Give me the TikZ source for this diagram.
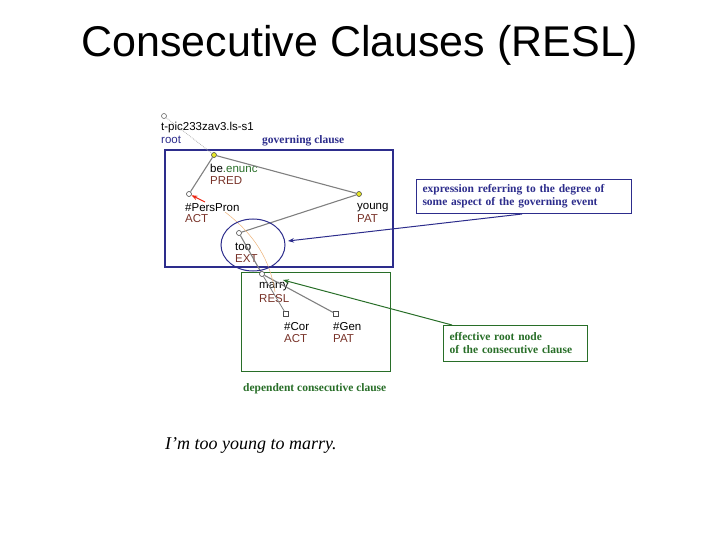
\documentclass[tikz,border=0pt]{standalone}
\usepackage{fontspec}
\setmainfont{Liberation Serif}
\newfontfamily\sff{Liberation Sans}
\usetikzlibrary{arrows.meta}
\definecolor{tblue}{RGB}{45,45,140}
\definecolor{tgreen}{RGB}{40,110,40}
\definecolor{fred}{RGB}{120,50,40}
\definecolor{nyel}{RGB}{230,230,40}
\begin{document}
\begin{tikzpicture}[x=1pt,y=-1pt,
 lab/.style={font=\sff\fontsize{11.5}{12}\selectfont,anchor=west,inner sep=0},
 fun/.style={lab,text=fred},
 nd/.style={circle,draw=black!70,line width=0.6pt,inner sep=0,minimum size=5pt},
 sq/.style={rectangle,draw=black!70,line width=0.6pt,inner sep=0,minimum size=4.5pt},
 edge/.style={draw=gray,line width=1.1pt},
 note/.style={font=\bfseries\fontsize{11.5}{13}\selectfont,align=left}]
\useasboundingbox (0,0) rectangle (720,540);
\node[font=\sff\fontsize{43}{46}\selectfont] (title) at (360,45) {Consecutive Clauses (RESL)};
% boxes
\draw[tblue,line width=1.2pt] (165,150) rectangle (393,267);
\draw[tgreen,line width=1pt] (241,272) rectangle (390,371);
\node[note,text=tblue,anchor=west,inner sep=0] (gc) at (262,141) {governing clause};
\node[note,text=tgreen,anchor=west,inner sep=0] (dc) at (243,389) {dependent consecutive clause};
% nodes
\node[nd,draw=black!60] (root) at (164,116) {};
\node[lab] (rootl) at (161,128) {t-pic233zav3.ls-s1};
\node[lab,text=tblue] (rootr) at (161,140) {root};
\node[nd,fill=nyel] (be) at (214,155) {};
\node[lab] (bel) at (210,168) {be\textcolor{tgreen}{.enunc}};
\node[fun] (bef) at (210,181) {PRED};
\node[nd,fill=white] (pp) at (189,194) {};
\node[lab] (ppl) at (185,208) {\#PersPron};
\node[fun] (ppf) at (185,219) {ACT};
\node[nd,fill=nyel] (yg) at (359,194) {};
\node[lab] (ygl) at (357,208) {young};
\node[fun] (ygf) at (357,219) {PAT};
\node[nd,fill=white] (too) at (239,233) {};
\node[lab] (tool) at (235,247) {too};
\node[fun] (toof) at (235,259) {EXT};
\node[nd,fill=white] (mr) at (262,274) {};
\node[lab] (mrl) at (259,287) {marry};
\node[fun] (mrf) at (259,299) {RESL};
\node[sq,fill=white] (cor) at (286,314) {};
\node[lab] (corl) at (284,327) {\#Cor};
\node[fun] (corf) at (284,339) {ACT};
\node[sq,fill=white] (gen) at (336,314) {};
\node[lab] (genl) at (333,327) {\#Gen};
\node[fun] (genf) at (333,339) {PAT};
% edges
\draw[gray!60,densely dotted,line width=0.8pt] (root) -- (be);
\draw[edge] (be) -- (pp);
\draw[edge] (be) -- (yg);
\draw[edge] (yg) -- (too);
\draw[edge] (too) -- (mr);
\draw[edge] (mr) -- (gen);
\draw[gray,line width=0.8pt] (mr) -- (cor);
\draw[orange!50!brown!60,line width=0.5pt] (225,212) .. controls (255,235) and (270,260) .. (275,292);
\draw[red!70!brown,line width=1pt,-{Stealth[length=6pt]}] (205,202) -- (pp);
% ellipse
\draw[tblue,line width=1pt] (253,245) ellipse [x radius=32,y radius=26];
% notes
\node[note,text=tblue,draw=tblue,line width=1pt,text width=203pt,minimum height=34pt,inner xsep=6pt,inner ysep=3pt,anchor=north west] (n1) at (416,179) {expression referring to the degree of\\some aspect of the governing event};
\node[note,text=tgreen,draw=tgreen,line width=1pt,text width=132pt,minimum height=36pt,inner xsep=6pt,inner ysep=3pt,anchor=north west] (n2) at (443,325) {effective root node\\of the consecutive clause};
\draw[tblue,line width=1pt,-{Stealth[length=6pt]}] (n1.south) ++(-2,0) coordinate (c1) -- (288,241);
\draw[tgreen,line width=1pt,-{Stealth[length=6pt]}] (n2.north west) ++(9,0) coordinate (c2) -- (283,280);
\node[font=\itshape\fontsize{18}{20}\selectfont,anchor=west,inner sep=0] (sent) at (165,445) {I'm too young to marry.};
\end{tikzpicture}
\end{document}
